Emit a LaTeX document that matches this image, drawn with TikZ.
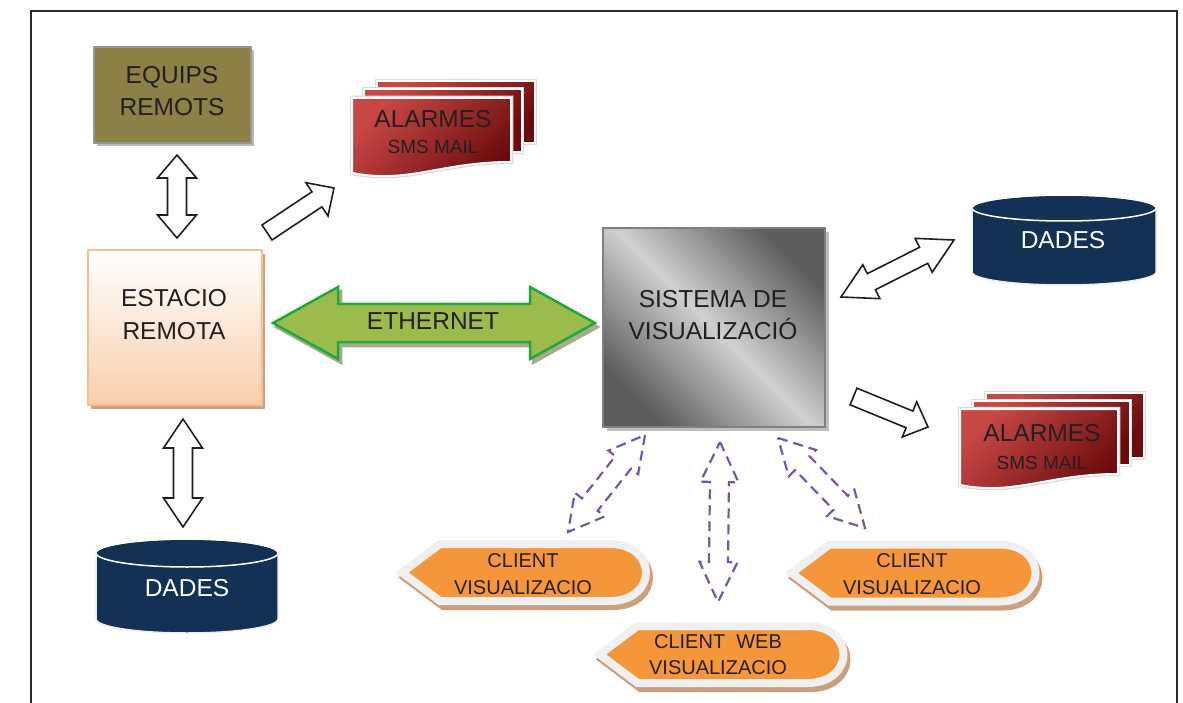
\documentclass[tikz,border=0pt]{standalone}
\usepackage{fontspec}
\setmainfont{Liberation Sans}
\usetikzlibrary{calc,shadows}
\definecolor{txtc}{RGB}{35,31,32}
\definecolor{eqfill}{RGB}{139,128,70}
\definecolor{eqdraw}{RGB}{150,150,150}
\definecolor{eqshadow}{RGB}{185,185,185}
\definecolor{esbot}{RGB}{248,206,172}
\definecolor{esdraw}{RGB}{249,190,140}
\definecolor{esshadow}{RGB}{205,163,125}
\definecolor{sisdark}{RGB}{92,92,92}
\definecolor{sislight}{RGB}{208,208,208}
\definecolor{sisdraw}{RGB}{128,128,128}
\definecolor{sisshadow}{RGB}{190,190,190}
\definecolor{ethfill}{RGB}{155,187,76}
\definecolor{ethdraw}{RGB}{32,168,58}
\definecolor{ethshadow}{RGB}{165,172,140}
\definecolor{dbfill}{RGB}{18,49,84}
\definecolor{dbdraw}{RGB}{236,236,236}
\definecolor{almlight}{RGB}{200,72,70}
\definecolor{almdark}{RGB}{108,12,14}
\definecolor{corange}{RGB}{245,150,58}
\definecolor{cborder}{RGB}{240,240,240}
\definecolor{cshadow}{RGB}{202,160,126}
\definecolor{dpurple}{RGB}{120,88,165}
\definecolor{framec}{RGB}{40,40,40}
% double block arrow: style, tipA, tipB, head length, head half width, shaft half width
\newcommand\blkdbl[6]{%
  \path ($(#2)!#4!(#3)$) coordinate (q1) ($(#3)!#4!(#2)$) coordinate (q2);
  \draw[#1] (#2) -- ($(q1)!#5!90:(#3)$) -- ($(q1)!#6!90:(#3)$) -- ($(q2)!#6!-90:(#2)$)
    -- ($(q2)!#5!-90:(#2)$) -- (#3) -- ($(q2)!#5!90:(#2)$) -- ($(q2)!#6!90:(#2)$)
    -- ($(q1)!#6!-90:(#3)$) -- ($(q1)!#5!-90:(#3)$) -- cycle;}
% single block arrow: style, tail, tip, head length, head half width, shaft half width
\newcommand\blksgl[6]{%
  \path ($(#3)!#4!(#2)$) coordinate (q1);
  \draw[#1] ($(#2)!#6!90:(#3)$) -- ($(q1)!#6!-90:(#2)$) -- ($(q1)!#5!-90:(#2)$) -- (#3)
    -- ($(q1)!#5!90:(#2)$) -- ($(q1)!#6!90:(#2)$) -- ($(#2)!#6!-90:(#3)$) -- cycle;}
% client shape centred at (#1,#2)
\newcommand\clientshp[2]{%
  \begin{scope}[shift={(#1+3,#2+5)}]
    \filldraw[fill=cshadow,draw=cshadow,line width=8pt,line join=miter]
      (-120,0) -- (-82,-28.5) -- (88,-28.5) .. controls (112,-28.5) and (124,-14) .. (124,0)
      .. controls (124,14) and (112,28.5) .. (88,28.5) -- (-82,28.5) -- cycle;
  \end{scope}
  \begin{scope}[shift={(#1,#2)}]
    \filldraw[fill=corange,draw=cborder,line width=8pt,line join=miter]
      (-120,0) -- (-82,-28.5) -- (88,-28.5) .. controls (112,-28.5) and (124,-14) .. (124,0)
      .. controls (124,14) and (112,28.5) .. (88,28.5) -- (-82,28.5) -- cycle;
  \end{scope}}
\tikzset{
  lbl/.style={font=\fontsize{24.5}{29}\selectfont, text=txtc, inner sep=0pt, anchor=base},
  slbl/.style={lbl, font=\fontsize{19}{23}\selectfont},
  clbl/.style={lbl, font=\fontsize{20}{24}\selectfont},
  blockarr/.style={fill=white, draw=black!88, line width=1.6pt, line join=miter},
  dasharr/.style={draw=dpurple, line width=2.2pt, dash pattern=on 10pt off 6pt, line join=miter},
  docsheet/.style={top color=almlight, bottom color=almdark, shading angle=45, draw=white,
    line width=2pt, preaction={draw=black!14, line width=4.5pt}},
  dbshape/.style={fill=dbfill, draw=dbdraw, line width=1.5pt},
}
\begin{document}
\begin{tikzpicture}[x=1pt,y=-1pt]
\useasboundingbox (0,0) rectangle (1183,703);
% frame
\draw[framec, line width=2pt] (31,11) rectangle (1177,730);

% boxes
\node[draw=eqdraw, fill=eqfill, line width=1.5pt, minimum width=157pt, minimum height=96pt,
  drop shadow={shadow xshift=3pt, shadow yshift=-3pt, fill=eqshadow, opacity=1}]
  (equips) at (172.5,95) {};
\node[lbl] (equipsA) at (172,84) {EQUIPS};
\node[lbl] (equipsB) at (172,116) {REMOTS};

\node[draw=esdraw, top color=white, bottom color=esbot, line width=2pt, minimum width=174pt, minimum height=155pt,
  drop shadow={shadow xshift=3pt, shadow yshift=-4pt, fill=esshadow, opacity=1}]
  (estacio) at (175,327.5) {};
\node[lbl] (estacioA) at (174,306) {ESTACIO};
\node[lbl] (estacioB) at (174,339) {REMOTA};

\node[draw=sisdraw, top color=sisdark, bottom color=sisdark, middle color=sislight, shading angle=-45,
  line width=2pt, minimum width=222pt, minimum height=199pt,
  drop shadow={shadow xshift=4pt, shadow yshift=-4pt, fill=sisshadow, opacity=1}]
  (sistema) at (714,327.5) {};
\node[lbl] (sistemaA) at (713,307) {SISTEMA DE};
\node[lbl] (sistemaB) at (713,339) {VISUALIZACIÓ};

% ethernet arrow
\coordinate (ethL) at (273,323);
\coordinate (ethR) at (595,323);
\blkdbl{fill=ethshadow, draw=ethshadow, line width=2.5pt, line join=miter, transform canvas={xshift=3pt,yshift=-4pt}}{ethL}{ethR}{65pt}{36pt}{19pt}
\blkdbl{fill=ethfill, draw=ethdraw, line width=2.5pt, line join=miter}{ethL}{ethR}{65pt}{36pt}{19pt}
\node[lbl] (ether) at (433,330) {ETHERNET};

% alarm documents (top)
\draw[docsheet] (377,81) rectangle (535,143);
\draw[docsheet] (364,89) rectangle (522,152);
\draw[docsheet] (352,98) -- (511,98) -- (511,162) .. controls (440,162) and (410,184) .. (352,173) -- cycle;
\node[lbl] (alarmA) at (433,128) {ALARMES};
\node[slbl] (alarmAb) at (433,154) {SMS MAIL};

% alarm documents (right)
\draw[docsheet] (986,393) rectangle (1144,458);
\draw[docsheet] (973,401) rectangle (1130,465);
\draw[docsheet] (960,409) -- (1118,409) -- (1118,474) .. controls (1047,474) and (1015,496) .. (960,485) -- cycle;
\node[lbl] (alarmB) at (1042,441) {ALARMES};
\node[slbl] (alarmBb) at (1042,469) {SMS MAIL};

% databases
\filldraw[dbshape] (972,208) -- (972,272) arc[start angle=180,end angle=360,x radius=92pt,y radius=13pt]
  -- (1156,208) arc[start angle=0,end angle=180,x radius=92pt,y radius=13pt] -- cycle;
\draw[white, line width=1.5pt] (1064,208) ellipse [x radius=92pt, y radius=13pt];
\node[lbl, text=white] (dadesR) at (1063,249) {DADES};

\filldraw[dbshape] (96,553) -- (96,619) arc[start angle=180,end angle=360,x radius=91pt,y radius=14pt]
  -- (278,553) arc[start angle=0,end angle=180,x radius=91pt,y radius=14pt] -- cycle;
\draw[white, line width=1.5pt] (187,553) ellipse [x radius=91pt, y radius=14pt];
\node[lbl, text=white] (dadesL) at (187,596) {DADES};

% clients
\clientshp{522}{572.5}
\node[clbl] (clientLa) at (523,567) {CLIENT};
\node[clbl] (clientLb) at (523,594) {VISUALIZACIO};
\clientshp{911.5}{573}
\node[clbl] (clientRa) at (912,567) {CLIENT};
\node[clbl] (clientRb) at (912,594) {VISUALIZACIO};
\clientshp{719.5}{654.5}
\node[clbl] (clientWa) at (718,648) {CLIENT\ \ WEB};
\node[clbl] (clientWb) at (718,674) {VISUALIZACIO};

% solid block arrows
\coordinate (a1t) at (177,155); \coordinate (a1b) at (177,238);
\blkdbl{blockarr}{a1t}{a1b}{23pt}{19.5pt}{9.5pt}
\coordinate (a2t) at (183,419); \coordinate (a2b) at (183,527);
\blkdbl{blockarr}{a2t}{a2b}{29pt}{19.5pt}{9.5pt}
\coordinate (a3s) at (267,232.5); \coordinate (a3e) at (334,188);
\blksgl{blockarr}{a3s}{a3e}{20.5pt}{20pt}{9pt}
\coordinate (a4s) at (841,297); \coordinate (a4e) at (954,240);
\blkdbl{blockarr}{a4s}{a4e}{34pt}{19pt}{9pt}
\coordinate (a5s) at (853.5,396.5); \coordinate (a5e) at (928,427);
\blksgl{blockarr}{a5s}{a5e}{20pt}{19pt}{9pt}

% dashed arrows
\coordinate (d1s) at (645,435); \coordinate (d1e) at (568,532);
\blkdbl{dasharr}{d1s}{d1e}{35pt}{19pt}{10pt}
\coordinate (d2s) at (720,442); \coordinate (d2e) at (718,602);
\blkdbl{dasharr}{d2s}{d2e}{40pt}{19pt}{9.5pt}
\coordinate (d3s) at (778,438); \coordinate (d3e) at (865,528);
\blkdbl{dasharr}{d3s}{d3e}{35pt}{19pt}{10pt}
\end{tikzpicture}
\end{document}
